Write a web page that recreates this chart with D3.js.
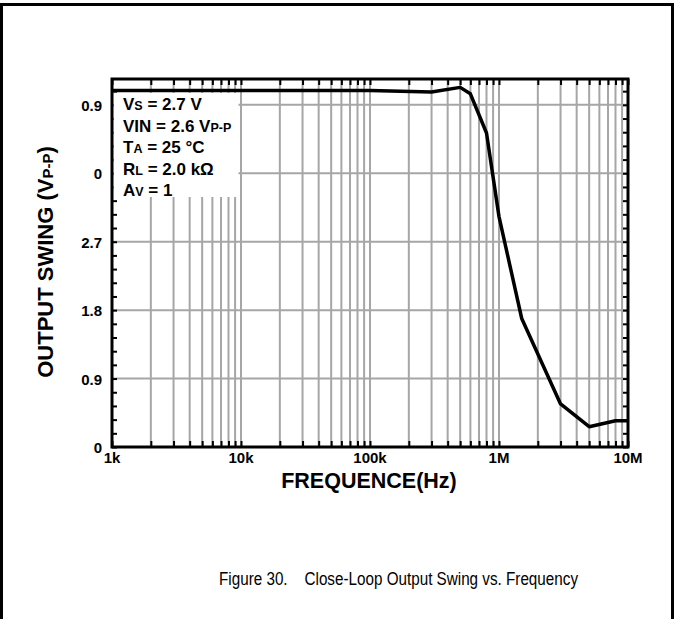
<!DOCTYPE html>
<html><head><meta charset="utf-8">
<script src="https://cdn.jsdelivr.net/npm/d3@7"></script>
<style>body{margin:0;background:#fff}svg{display:block}</style>
</head><body>
<script>
const freqs = [1e3, 1e4, 1e5, 3e5, 5e5, 6e5, 8e5, 1e6, 1.5e6, 3e6, 5e6, 8e6, 1e7];
const swing = [4.69, 4.69, 4.69, 4.67, 4.73, 4.645, 4.13, 3.03, 1.69, 0.566, 0.267, 0.346, 0.346];
const yTickValues = [0, 0.9, 1.8, 2.7, 3.6, 4.5];
const yTickLabels = ["0", "0.9", "1.8", "2.7", "0", "0.9"];
const xTickValues = [1e3, 1e4, 1e5, 1e6, 1e7];
const xTickLabels = ["1k", "10k", "100k", "1M", "10M"];

const W = 675, H = 619;
const L = 112, R = 628, T = 79, B = 447;
const svg = d3.select("body").append("svg").attr("width", W).attr("height", H);
svg.append("rect").attr("width", W).attr("height", H).attr("fill", "#fff");
svg.append("path").attr("d", `M1.5,${H+5}V4.5H672.5V${H+5}`).attr("fill","none").attr("stroke","#000").attr("stroke-width",3);

const x = d3.scaleLog().domain([1e3, 1e7]).range([L, R]);
const y = d3.scaleLinear().domain([0, 4.84]).range([B, T]);
const font = "Liberation Sans, Arial, sans-serif";

const minor = [];
for (let d = 1e3; d < 1e7; d *= 10) for (let k = 2; k <= 9; k++) minor.push(d * k);
const g = svg.append("g");
g.selectAll("line.vg").data(minor.concat(xTickValues.slice(1, 4))).join("line")
  .attr("x1", d => x(d)).attr("x2", d => x(d)).attr("y1", T).attr("y2", B)
  .attr("stroke", "#a6a6a6").attr("stroke-width", 2);
g.selectAll("line.hg").data(yTickValues.slice(1)).join("line")
  .attr("x1", L).attr("x2", R).attr("y1", d => y(d)).attr("y2", d => y(d))
  .attr("stroke", "#a6a6a6").attr("stroke-width", 2);

const allX = minor.concat(xTickValues);
svg.append("g").attr("transform", `translate(0,${B})`)
  .call(d3.axisBottom(x).tickValues(allX).tickSizeInner(-6).tickSizeOuter(0).tickFormat(""))
  .call(s => { s.select(".domain").remove(); s.selectAll("line").attr("stroke-width", 2); });
svg.append("g").attr("transform", `translate(0,${T})`)
  .call(d3.axisTop(x).tickValues(allX).tickSizeInner(-6).tickSizeOuter(0).tickFormat(""))
  .call(s => { s.select(".domain").remove(); s.selectAll("line").attr("stroke-width", 2); });
const yMinor = d3.range(0, 27).map(i => +(i * 0.18).toFixed(2)).filter(v => v <= 4.84);
svg.append("g").attr("transform", `translate(${L},0)`)
  .call(d3.axisRight(y).tickValues(yMinor).tickSize(5).tickFormat(""))
  .call(s => { s.select(".domain").remove(); s.selectAll("line").attr("stroke-width", 2); });
svg.append("g").attr("transform", `translate(${R},0)`)
  .call(d3.axisLeft(y).tickValues(yMinor).tickSize(5).tickFormat(""))
  .call(s => { s.select(".domain").remove(); s.selectAll("line").attr("stroke-width", 2); });

svg.append("rect").attr("x", L + 1.5).attr("y", 93).attr("width", 125).attr("height", 104).attr("fill", "#fff");

svg.append("path").datum(freqs.map((f, i) => [f, swing[i]]))
  .attr("d", d3.line().x(d => x(d[0])).y(d => y(d[1])))
  .attr("fill", "none").attr("stroke", "#000").attr("stroke-width", 3.5).attr("stroke-linejoin", "round");

svg.append("rect").attr("x", L).attr("y", T).attr("width", R - L).attr("height", B - T)
  .attr("fill", "none").attr("stroke", "#000").attr("stroke-width", 3);

svg.append("g").selectAll("text").data(yTickValues).join("text")
  .attr("x", L - 10).attr("y", d => y(d) + 6).attr("text-anchor", "end")
  .attr("font-family", font).attr("font-weight", "bold").attr("font-size", 15)
  .text((d, i) => yTickLabels[i]);
svg.append("g").selectAll("text").data(xTickValues).join("text")
  .attr("x", d => x(d)).attr("y", B + 16).attr("text-anchor", "middle")
  .attr("font-family", font).attr("font-weight", "bold").attr("font-size", 15)
  .text((d, i) => xTickLabels[i]);

svg.append("text").attr("x", 369).attr("y", 488).attr("text-anchor", "middle")
  .attr("font-family", font).attr("font-weight", "bold").attr("font-size", 21.5).text("FREQUENCE(Hz)");
const yt = svg.append("text").attr("transform", "translate(53,262) rotate(-90)").attr("text-anchor", "middle")
  .attr("font-family", font).attr("font-weight", "bold").attr("font-size", 22);
yt.append("tspan").text("OUTPUT SWING (V");
yt.append("tspan").attr("font-size", 15).text("P-P");
yt.append("tspan").text(")");

const legend = [
  [["V", 0], ["S", 1], [" = 2.7 V", 0]],
  [["VIN = 2.6 V", 0], ["P-P", 1]],
  [["T", 0], ["A", 1], [" = 25 °C", 0]],
  [["R", 0], ["L", 1], [" = 2.0 kΩ", 0]],
  [["A", 0], ["V", 1], [" = 1", 0]]
];
legend.forEach((parts, i) => {
  const t = svg.append("text").attr("x", 123).attr("y", 110 + i * 21.6)
    .attr("font-family", font).attr("font-weight", "bold").attr("font-size", 17);
  parts.forEach(p => t.append("tspan").attr("font-size", p[1] ? 12.5 : 17).text(p[0]));
});

svg.append("text").attr("x", 219).attr("y", 585)
  .attr("font-family", font).attr("font-size", 17.5).attr("xml:space", "preserve")
  .attr("textLength", 359).attr("lengthAdjust", "spacingAndGlyphs")
  .text("Figure 30.    Close-Loop Output Swing vs. Frequency");
</script>
</body></html>
